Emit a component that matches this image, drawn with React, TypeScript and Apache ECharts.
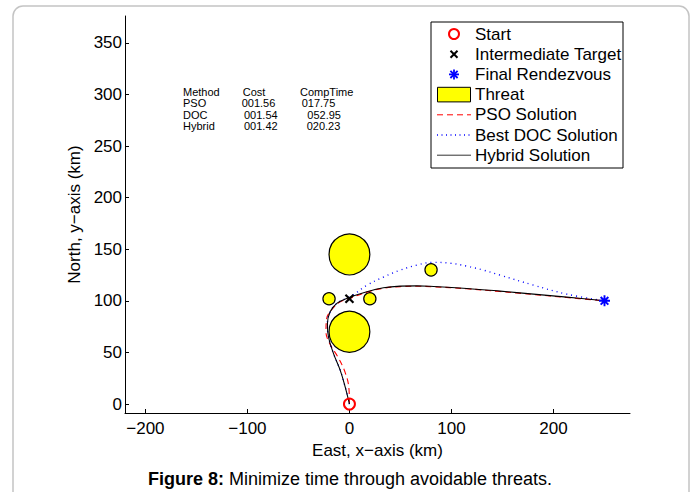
import React, { useEffect, useRef } from "react";
import * as echarts from "echarts";

const FONT = "'Liberation Sans', Arial, Helvetica, sans-serif";

// axis ticks
const X_TICKS = [-200, -100, 0, 100, 200];
const Y_TICKS = [0, 50, 100, 150, 200, 250, 300, 350];

// points
const START = [0, 0];
const TARGET = [0, 102];
const RENDEZVOUS = [250, 100];

// threats: x, y, radius (km)
const THREAT_X = [0, 0, -20, 20, 80];
const THREAT_Y = [145, 70, 102, 102, 130];
const THREAT_R = [20, 20, 6, 6, 6];

// trajectories
const PSO_X = [0, -0.5, -4, -11, -19, -23, -22.5, -17, -9, 0, 17, 33.3, 49.7, 66, 82.4, 115, 147.7, 180.4, 213, 250];
const PSO_Y = [0, 15, 30, 45, 58, 70, 82, 92, 99, 102.3, 108.4, 112.2, 113.8, 114.1, 113.6, 111.7, 109, 106.1, 103.2, 100];

const DOC_X = [0, -4.2, -9.1, -15.7, -20.6, -21.6, -18.9, -12.4, -3, 4, 17, 33.3, 49.7, 66, 82.4, 98.7, 115, 131.4, 147.7, 180.4, 213, 250];
const DOC_Y = [0, 16.7, 32.9, 49.1, 65.2, 78.1, 89.4, 97.5, 102.5, 106, 115, 123, 129.7, 134.6, 137.3, 136.5, 133.6, 129.7, 124.9, 115.2, 106.5, 100];

const HYB_X = [0, -4.2, -9.1, -15.7, -20.6, -21.6, -18.9, -12.4, -2.5, 17, 33.3, 49.7, 66, 82.4, 115, 147.7, 180.4, 213, 250];
const HYB_Y = [0, 16.7, 32.9, 49.1, 65.2, 78.1, 89.4, 97.5, 102.3, 108.7, 112.6, 114.2, 114.5, 113.9, 112, 109.4, 106.5, 103.6, 100];

// legend labels
const LEGEND_LABELS = [
  "Start",
  "Intermediate Target",
  "Final Rendezvous",
  "Threat",
  "PSO Solution",
  "Best DOC Solution",
  "Hybrid Solution",
];

// table text
const TABLE_HEADER = ["Method", "Cost", "CompTime"];
const TABLE_METHODS = ["PSO", "DOC", "Hybrid"];
const TABLE_COST = ["001.56", "001.54", "001.42"];
const TABLE_TIME = ["017.75", "052.95", "020.23"];

const zip = (xs: number[], ys: number[]) => xs.map((x, i) => [x, ys[i]]);
const minus = (v: number | string) => String(v).replace("-", "\u2212");

export default function App() {
  const ref = useRef<HTMLDivElement>(null);

  useEffect(() => {
    if (!ref.current) return;
    const chart = echarts.init(ref.current, null, { renderer: "svg" });

    const txt = (x: number, y: number, text: string, size: number, extra: any = {}) => ({
      type: "text",
      x,
      y,
      z: 100,
      style: {
        text,
        fontSize: size,
        fontFamily: FONT,
        fill: "#000",
        align: "left",
        verticalAlign: "middle",
        ...extra,
      },
    });

    const legendX = 431;
    const legendY = 22;
    const rowY = (i: number) => 34 + i * 20.2;
    const mx = 454;
    const legendEls: any[] = [
      {
        type: "rect",
        z: 90,
        shape: { x: legendX, y: legendY, width: 192, height: 146 },
        style: { fill: "#fff", stroke: "#000", lineWidth: 1 },
      },
      {
        type: "circle",
        z: 100,
        shape: { cx: mx, cy: rowY(0), r: 5 },
        style: { fill: "none", stroke: "#ff0000", lineWidth: 2 },
      },
      { type: "line", z: 100, shape: { x1: mx - 3.5, y1: rowY(1) - 3.5, x2: mx + 3.5, y2: rowY(1) + 3.5 }, style: { stroke: "#000", lineWidth: 2 } },
      { type: "line", z: 100, shape: { x1: mx - 3.5, y1: rowY(1) + 3.5, x2: mx + 3.5, y2: rowY(1) - 3.5 }, style: { stroke: "#000", lineWidth: 2 } },
      { type: "line", z: 100, shape: { x1: mx, y1: rowY(2) - 5, x2: mx, y2: rowY(2) + 5 }, style: { stroke: "#0000ff", lineWidth: 1.8 } },
      { type: "line", z: 100, shape: { x1: mx - 5, y1: rowY(2), x2: mx + 5, y2: rowY(2) }, style: { stroke: "#0000ff", lineWidth: 1.8 } },
      { type: "line", z: 100, shape: { x1: mx - 3.6, y1: rowY(2) - 3.6, x2: mx + 3.6, y2: rowY(2) + 3.6 }, style: { stroke: "#0000ff", lineWidth: 1.8 } },
      { type: "line", z: 100, shape: { x1: mx - 3.6, y1: rowY(2) + 3.6, x2: mx + 3.6, y2: rowY(2) - 3.6 }, style: { stroke: "#0000ff", lineWidth: 1.8 } },
      {
        type: "rect",
        z: 100,
        shape: { x: 437.5, y: rowY(3) - 7.3, width: 33, height: 14.6 },
        style: { fill: "#ffff00", stroke: "#000", lineWidth: 1 },
      },
      { type: "line", z: 100, shape: { x1: 437, y1: rowY(4), x2: 471, y2: rowY(4) }, style: { stroke: "#ff0000", lineWidth: 1, lineDash: [6, 4] } },
      { type: "line", z: 100, shape: { x1: 437, y1: rowY(5), x2: 471, y2: rowY(5) }, style: { stroke: "#0000ff", lineWidth: 1.3, lineDash: [1, 3.5] } },
      { type: "line", z: 100, shape: { x1: 437, y1: rowY(6), x2: 471, y2: rowY(6) }, style: { stroke: "#333", lineWidth: 1 } },
      ...LEGEND_LABELS.map((l, i) => txt(475, rowY(i), l, 17)),
    ];

    const rowsY = [91.5, 103, 114.5, 126];
    const costX = [241.7, 244, 244];
    const timeX = [301.7, 307.3, 306.7];
    const tableEls: any[] = [
      txt(183, rowsY[0], TABLE_HEADER[0], 11),
      txt(242.7, rowsY[0], TABLE_HEADER[1], 11),
      txt(300, rowsY[0], TABLE_HEADER[2], 11),
      ...TABLE_METHODS.map((m, i) => txt(183, rowsY[i + 1], m, 11)),
      ...TABLE_COST.map((c, i) => txt(costX[i], rowsY[i + 1], c, 11)),
      ...TABLE_TIME.map((t, i) => txt(timeX[i], rowsY[i + 1], t, 11)),
    ];

    const option: any = {
      animation: false,
      textStyle: { fontFamily: FONT },
      grid: { left: 125, right: 65, top: 16, bottom: 79, containLabel: false },
      xAxis: {
        type: "value",
        min: -220,
        max: 275,
        name: "East, x\u2212axis (km)",
        nameLocation: "middle",
        nameGap: 22,
        nameTextStyle: { fontSize: 17, color: "#000", fontFamily: FONT },
        axisLine: { onZero: false, lineStyle: { color: "#000", width: 1 } },
        axisTick: { inside: true, length: 4, customValues: X_TICKS, lineStyle: { color: "#000" } },
        axisLabel: {
          customValues: X_TICKS,
          fontSize: 17,
          color: "#000",
          margin: 7,
          fontFamily: FONT,
          formatter: (v: number) => minus(v),
        },
        splitLine: { show: false },
      },
      yAxis: {
        type: "value",
        min: -8.7,
        max: 376,
        name: "North, y\u2212axis (km)",
        nameLocation: "middle",
        nameGap: 33,
        nameTextStyle: { fontSize: 17, color: "#000", fontFamily: FONT },
        axisLine: { onZero: false, lineStyle: { color: "#000", width: 1 } },
        axisTick: { inside: true, length: 4, customValues: Y_TICKS, lineStyle: { color: "#000" } },
        axisLabel: {
          customValues: Y_TICKS,
          fontSize: 17,
          color: "#000",
          margin: 3,
          fontFamily: FONT,
          formatter: (v: number) => minus(v),
        },
        splitLine: { show: false },
      },
      series: [
        {
          type: "custom",
          name: "Threat",
          z: 1,
          data: THREAT_X.map((x, i) => [x, THREAT_Y[i], THREAT_R[i]]),
          encode: { x: 0, y: 1 },
          renderItem: (_params: any, api: any) => {
            const c = api.coord([api.value(0), api.value(1)]);
            const r = api.size([api.value(2), 0])[0];
            return {
              type: "circle",
              shape: { cx: c[0], cy: c[1], r },
              style: { fill: "#ffff00", stroke: "#000", lineWidth: 1.2 },
            };
          },
        },
        {
          type: "line",
          name: "PSO Solution",
          z: 2,
          data: zip(PSO_X, PSO_Y),
          showSymbol: false,
          symbol: "none",
          smooth: 0.4,
          lineStyle: { color: "#ff0000", width: 1.1, type: [6, 4] },
        },
        {
          type: "line",
          name: "Best DOC Solution",
          z: 2,
          data: zip(DOC_X, DOC_Y),
          showSymbol: false,
          symbol: "none",
          smooth: 0.4,
          lineStyle: { color: "#0000ff", width: 1.4, type: [1, 4] },
        },
        {
          type: "line",
          name: "Hybrid Solution",
          z: 3,
          data: zip(HYB_X, HYB_Y),
          showSymbol: false,
          symbol: "none",
          smooth: 0.4,
          lineStyle: { color: "#000", width: 1.1 },
        },
        {
          type: "scatter",
          name: "Start",
          z: 4,
          data: [START],
          symbol: "circle",
          symbolSize: 11,
          itemStyle: { color: "rgba(0,0,0,0)", borderColor: "#ff0000", borderWidth: 2, opacity: 1 },
        },
        {
          type: "scatter",
          name: "Intermediate Target",
          z: 4,
          data: [TARGET],
          symbol: "path://M0,0L10,10M0,10L10,0",
          symbolSize: 8,
          itemStyle: { color: "rgba(0,0,0,0)", borderColor: "#000", borderWidth: 2.2, opacity: 1 },
        },
        {
          type: "scatter",
          name: "Final Rendezvous",
          z: 4,
          data: [RENDEZVOUS],
          symbol: "path://M5,0L5,10M0,5L10,5M1.5,1.5L8.5,8.5M1.5,8.5L8.5,1.5",
          symbolSize: 11,
          itemStyle: { color: "rgba(0,0,0,0)", borderColor: "#0000ff", borderWidth: 1.9, opacity: 1 },
        },
      ],
      graphic: [
        {
          type: "rect",
          z: -10,
          silent: true,
          shape: { x: 13, y: 6, width: 676, height: 530, r: 10 },
          style: { fill: "none", stroke: "#c4c4c4", lineWidth: 1.5 },
        },
        ...legendEls,
        ...tableEls,
        {
          type: "text",
          x: 350,
          y: 479,
          z: 100,
          style: {
            text: "{b|Figure 8:} Minimize time through avoidable threats.",
            fontSize: 18,
            fontFamily: FONT,
            fill: "#000",
            align: "center",
            verticalAlign: "middle",
            rich: { b: { fontWeight: "bold", fontSize: 18, fontFamily: FONT, fill: "#000" } },
          },
        },
      ],
    };

    chart.setOption(option);
    return () => chart.dispose();
  }, []);

  return (
    <div
      ref={ref}
      style={{ position: "fixed", left: 0, top: 0, width: 695, height: 492, background: "#fff" }}
    />
  );
}
